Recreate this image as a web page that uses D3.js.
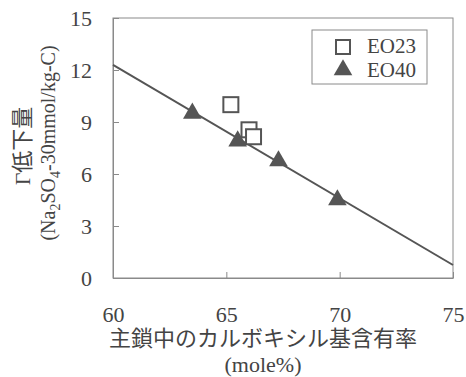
<!DOCTYPE html>
<html>
<head>
<meta charset="utf-8">
<script src="https://cdn.jsdelivr.net/npm/d3@7"></script>
<style>
  body { margin: 0; background: #fff; }
  text { font-family: "Liberation Serif", "Noto Sans CJK JP", serif; fill: #444; }
</style>
</head>
<body>
<div id="chart"></div>
<script>
const width = 466;
const height = 377;
const margin = {left: 113, right: 13, top: 18, bottom: 99};

// data
const eo23X = [65.2, 66.0, 66.2];
const eo23Y = [10.0, 8.55, 8.15];
const eo40X = [63.5, 65.5, 67.3, 69.9];
const eo40Y = [9.5, 7.9, 6.75, 4.5];
const fitX = [60, 75];
const fitY = [12.3, 0.75];
const xTicks = [60, 65, 70, 75];
const yTicks = [0, 3, 6, 9, 12, 15];
const legendLabels = ["EO23", "EO40"];

const ink = "#555";

let svg = d3.select("#chart").append("svg")
    .attr("width", width)
    .attr("height", height);

let x = d3.scaleLinear()
    .domain([60, 75])
    .range([margin.left, width - margin.right]);

let y = d3.scaleLinear()
    .domain([0, 15])
    .range([height - margin.bottom, margin.top]);

// frame
svg.append("rect")
    .attr("x", x(60))
    .attr("y", y(15))
    .attr("width", x(75) - x(60))
    .attr("height", y(0) - y(15))
    .attr("fill", "none")
    .attr("stroke", "#8a8a8a")
    .attr("stroke-width", 1);

// axes, ticks inward
let xAxis = svg.append("g")
    .attr("transform", `translate(0,${y(0)})`)
    .call(d3.axisBottom(x).tickValues(xTicks).tickSizeInner(-6).tickSizeOuter(0).tickPadding(28));

let yAxis = svg.append("g")
    .attr("transform", `translate(${x(60)},0)`)
    .call(d3.axisLeft(y).tickValues(yTicks).tickSizeInner(-6).tickSizeOuter(0).tickPadding(21));

[xAxis, yAxis].forEach(a => {
    a.select(".domain").attr("stroke", "#8a8a8a");
    a.selectAll(".tick line").attr("stroke", "#8a8a8a");
    a.selectAll(".tick text")
        .style("font-size", "22px")
        .style("font-family", "Liberation Serif, serif")
        .attr("fill", "#444");
});

// fit line
let line = d3.line()
    .x((d, i) => x(fitX[i]))
    .y((d, i) => y(fitY[i]));

svg.append("path")
    .datum(fitX)
    .attr("d", line)
    .attr("fill", "none")
    .attr("stroke", ink)
    .attr("stroke-width", 2);

// markers
const tri = d3.symbol().type(d3.symbolTriangle).size(150);

svg.selectAll(".eo40")
    .data(eo40X)
    .enter()
    .append("path")
    .attr("class", "eo40")
    .attr("d", tri)
    .attr("transform", (d, i) => `translate(${x(d)},${y(eo40Y[i])})`)
    .attr("fill", ink);

const sq = 15;
svg.selectAll(".eo23")
    .data(eo23X)
    .enter()
    .append("rect")
    .attr("class", "eo23")
    .attr("x", d => x(d) - sq / 2)
    .attr("y", (d, i) => y(eo23Y[i]) - sq / 2)
    .attr("width", sq)
    .attr("height", sq)
    .attr("fill", "#fff")
    .attr("stroke", ink)
    .attr("stroke-width", 2);

// legend
let legend = svg.append("g");
legend.append("rect")
    .attr("x", 312)
    .attr("y", 30)
    .attr("width", 115)
    .attr("height", 54)
    .attr("fill", "#fff")
    .attr("stroke", "#8a8a8a");

legend.append("rect")
    .attr("x", 343 - 7)
    .attr("y", 47 - 7)
    .attr("width", 14)
    .attr("height", 14)
    .attr("fill", "#fff")
    .attr("stroke", ink)
    .attr("stroke-width", 2);

legend.append("path")
    .attr("d", tri)
    .attr("transform", "translate(343,70)")
    .attr("fill", ink);

legend.selectAll(".lab")
    .data(legendLabels)
    .enter()
    .append("text")
    .attr("class", "lab")
    .attr("x", 367)
    .attr("y", (d, i) => 53 + i * 24)
    .style("font-size", "21px")
    .text(d => d);

// axis titles
svg.append("text")
    .attr("x", 263)
    .attr("y", 346)
    .attr("text-anchor", "middle")
    .style("font-size", "22px")
    .text("主鎖中のカルボキシル基含有率");

svg.append("text")
    .attr("x", 263)
    .attr("y", 372)
    .attr("text-anchor", "middle")
    .style("font-size", "22px")
    .text("(mole%)");

svg.append("text")
    .attr("transform", "translate(30,146) rotate(-90)")
    .attr("text-anchor", "middle")
    .style("font-size", "22px")
    .text("Γ低下量");

let yt2 = svg.append("text")
    .attr("transform", "translate(55,143) rotate(-90)")
    .attr("text-anchor", "middle")
    .style("font-size", "20px");
yt2.append("tspan").text("(Na");
yt2.append("tspan").attr("dy", 5).style("font-size", "14px").text("2");
yt2.append("tspan").attr("dy", -5).text("SO");
yt2.append("tspan").attr("dy", 5).style("font-size", "14px").text("4");
yt2.append("tspan").attr("dy", -5).text("-30mmol/kg-C)");
</script>
</body>
</html>
